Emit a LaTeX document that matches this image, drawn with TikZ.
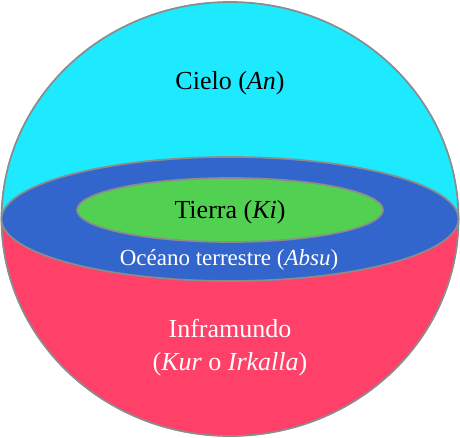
\documentclass[tikz,border=0pt]{standalone}
\usepackage{fontspec}
\setmainfont{Liberation Serif}
\usepackage{tikz}
\usetikzlibrary{positioning}
\definecolor{skycol}{HTML}{1DE9FF}
\definecolor{seacol}{HTML}{3366CC}
\definecolor{landcol}{HTML}{52D052}
\definecolor{undercol}{HTML}{FF4068}
\definecolor{rimcol}{HTML}{8C8C8C}

\begin{document}
\begin{tikzpicture}[x=1pt,y=1pt,
  rim/.style={draw=rimcol,line width=1.7pt},
  label/.style={anchor=base,inner sep=0pt,font=\fontsize{26}{30}\selectfont}]
\useasboundingbox (0,0) rectangle (460,437);
% hemispheres
\fill[skycol] (1,218) arc[start angle=180,end angle=0,x radius=229,y radius=217.5] -- cycle;
\fill[undercol] (1,218) arc[start angle=180,end angle=360,x radius=229,y radius=217.5] -- cycle;
\draw[rim] (230,218) ellipse[x radius=228.5,y radius=217];
% ocean and earth discs
\draw[rim,fill=seacol] (230,218) ellipse[x radius=228.5,y radius=62];
\draw[rim,fill=landcol] (230,227) ellipse[x radius=153,y radius=32];
% labels
\node[label] (sky) at (230,347) {Cielo (\textit{An})};
\node[label] (earth) at (230,219) {Tierra (\textit{Ki})};
\node[label,text=white,font=\fontsize{23}{27}\selectfont] (ocean) at (229,172) {Océano terrestre (\textit{Absu})};
\node[label,text=white] (under) at (230,100) {Inframundo};
\node[label,text=white] (kur) at (230,67) {(\textit{Kur} o \textit{Irkalla})};
\end{tikzpicture}
\end{document}
